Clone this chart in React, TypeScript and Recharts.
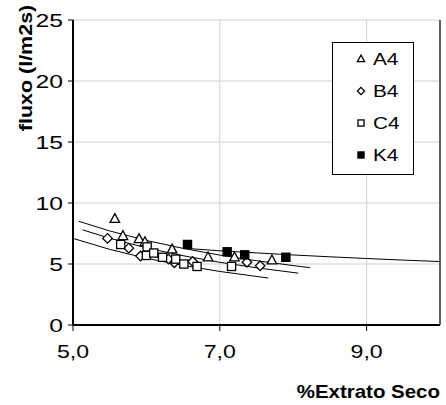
import React from 'react';
import {
  ComposedChart,
  Scatter,
  Line,
  XAxis,
  YAxis,
  CartesianGrid,
  ReferenceLine,
  Legend,
} from 'recharts';

const xTicks = [5, 7, 9];
const yTicks = [0, 5, 10, 15, 20, 25];

const seriesA4 = [
  { x: 5.57, y: 8.7 },
  { x: 5.68, y: 7.3 },
  { x: 5.9, y: 7.05 },
  { x: 5.98, y: 6.8 },
  { x: 6.35, y: 6.2 },
  { x: 6.84, y: 5.55 },
  { x: 7.2, y: 5.55 },
  { x: 7.71, y: 5.3 },
];

const seriesB4 = [
  { x: 5.47, y: 7.1 },
  { x: 5.76, y: 6.3 },
  { x: 5.92, y: 5.65 },
  { x: 6.3, y: 5.4 },
  { x: 6.38, y: 5.1 },
  { x: 6.63, y: 5.2 },
  { x: 7.37, y: 5.15 },
  { x: 7.55, y: 4.85 },
];

const seriesC4 = [
  { x: 5.65, y: 6.6 },
  { x: 6.01, y: 6.4 },
  { x: 6.0, y: 5.7 },
  { x: 6.1, y: 5.9 },
  { x: 6.22, y: 5.55 },
  { x: 6.4, y: 5.4 },
  { x: 6.51, y: 5.0 },
  { x: 6.69, y: 4.8 },
  { x: 7.16, y: 4.8 },
];

const seriesK4 = [
  { x: 6.56, y: 6.6 },
  { x: 7.1, y: 6.0 },
  { x: 7.34, y: 5.75 },
  { x: 7.9, y: 5.55 },
];

// trend lines
const trendA4 = [
  { x: 5.08, y: 8.5 },
  { x: 5.5, y: 7.71 },
  { x: 6.0, y: 6.93 },
  { x: 6.5, y: 6.28 },
  { x: 7.0, y: 5.73 },
  { x: 7.5, y: 5.27 },
  { x: 8.0, y: 4.87 },
  { x: 8.23, y: 4.7 },
];

const trendB4 = [
  { x: 5.13, y: 7.8 },
  { x: 5.5, y: 7.11 },
  { x: 6.0, y: 6.32 },
  { x: 6.5, y: 5.68 },
  { x: 7.0, y: 5.14 },
  { x: 7.5, y: 4.69 },
  { x: 8.07, y: 4.25 },
];

const trendC4 = [
  { x: 5.0, y: 7.1 },
  { x: 5.5, y: 6.2 },
  { x: 6.0, y: 5.47 },
  { x: 6.5, y: 4.88 },
  { x: 7.0, y: 4.39 },
  { x: 7.66, y: 3.85 },
];

const trendK4 = [
  { x: 6.5, y: 6.3 },
  { x: 7.0, y: 6.08 },
  { x: 7.5, y: 5.91 },
  { x: 8.0, y: 5.74 },
  { x: 8.5, y: 5.59 },
  { x: 9.0, y: 5.45 },
  { x: 9.5, y: 5.32 },
  { x: 10.0, y: 5.2 },
];

const legendNames = ['A4', 'B4', 'C4', 'K4'];

const FONT = '"Liberation Sans", Arial, sans-serif';

const marker = (name: string, cx: number, cy: number, r: number) => {
  const sw = 1.3;
  if (name === 'A4') {
    return (
      <polygon
        points={`${cx},${cy - r * 1.1} ${cx + r},${cy + r * 0.75} ${cx - r},${cy + r * 0.75}`}
        fill="#fff"
        stroke="#000"
        strokeWidth={sw}
      />
    );
  }
  if (name === 'B4') {
    return (
      <polygon
        points={`${cx},${cy - r} ${cx + r},${cy} ${cx},${cy + r} ${cx - r},${cy}`}
        fill="#fff"
        stroke="#000"
        strokeWidth={sw}
      />
    );
  }
  if (name === 'C4') {
    return (
      <rect x={cx - r * 0.85} y={cy - r * 0.85} width={r * 1.7} height={r * 1.7} fill="#fff" stroke="#000" strokeWidth={sw} />
    );
  }
  return <rect x={cx - r * 0.85} y={cy - r * 0.85} width={r * 1.7} height={r * 1.7} fill="#000" stroke="#000" strokeWidth={sw} />;
};

const shapeFor = (name: string) => (props: any) => marker(name, props.cx, props.cy, 4.8);

const YTick = ({ x, y, payload }: any) => (
  <g transform={`translate(${x},${y})`}>
    <text transform="scale(1.3,1)" textAnchor="end" dy="0.36em" fontSize={19} fontFamily={FONT} fill="#000">
      {payload.value}
    </text>
  </g>
);

const XTick = ({ x, y, payload }: any) => (
  <g transform={`translate(${x},${y + 25})`}>
    <text transform="scale(1.25,1)" textAnchor="middle" fontSize={18.5} fontFamily={FONT} fill="#000">
      {payload.value.toFixed(1).replace('.', ',')}
    </text>
  </g>
);

const renderLegend = () => (
  <svg width={82} height={133} style={{ display: 'block' }}>
    <rect x={0.5} y={0.5} width={81} height={132} fill="#fff" stroke="#000" strokeWidth={1} />
    {legendNames.map((n, i) => (
      <g key={n}>
        {marker(n, 29, 17 + i * 32, 3.6)}
        <g transform={`translate(41,${17 + i * 32 + 6})`}>
          <text transform="scale(1.3,1)" fontSize={16} fontFamily={FONT} fill="#000">
            {n}
          </text>
        </g>
      </g>
    ))}
  </svg>
);

export default function App() {
  return (
    <div style={{ position: 'absolute', left: 0, top: 0, width: 446, height: 405, background: '#fff' }}>
      <ComposedChart width={446} height={405} margin={{ top: 20, right: 6, left: 0, bottom: 0 }}>
        <CartesianGrid stroke="#cfcfcf" strokeWidth={1} />
        <XAxis
          type="number"
          dataKey="x"
          domain={[5, 10]}
          ticks={xTicks}
          allowDataOverflow
          height={80}
          axisLine={{ stroke: '#000', strokeWidth: 2 }}
          tickLine={{ stroke: '#000' }}
          tickSize={6}
          tick={<XTick />}
          label={{
            content: () => (
              <g transform="translate(440,398)">
                <text transform="scale(1.1,1)" textAnchor="end" fontSize={18.6} fontWeight="bold" fontFamily={FONT} fill="#000">
                  %Extrato Seco
                </text>
              </g>
            ),
          }}
        />
        <YAxis
          type="number"
          dataKey="y"
          domain={[0, 25]}
          ticks={yTicks}
          allowDataOverflow
          width={73}
          axisLine={{ stroke: '#000', strokeWidth: 2 }}
          tickLine={{ stroke: '#000' }}
          tickSize={5}
          tickMargin={5}
          tick={<YTick />}
          label={{
            content: () => (
              <g transform="translate(32,68) rotate(-90)">
                <text transform="scale(1.13,1)" textAnchor="middle" fontSize={19} fontWeight="bold" fontFamily={FONT} fill="#000">
                  fluxo (l/m2s)
                </text>
              </g>
            ),
          }}
        />
        <ReferenceLine x={10} stroke="#333" strokeWidth={1.5} />
        <Line data={trendA4} dataKey="y" type="linear" stroke="#000" strokeWidth={1} dot={false} legendType="none" isAnimationActive={false} />
        <Line data={trendB4} dataKey="y" type="linear" stroke="#000" strokeWidth={1} dot={false} legendType="none" isAnimationActive={false} />
        <Line data={trendC4} dataKey="y" type="linear" stroke="#000" strokeWidth={1} dot={false} legendType="none" isAnimationActive={false} />
        <Line data={trendK4} dataKey="y" type="linear" stroke="#000" strokeWidth={1} dot={false} legendType="none" isAnimationActive={false} />
        <Scatter name="A4" data={seriesA4} dataKey="y" shape={shapeFor('A4')} isAnimationActive={false} />
        <Scatter name="B4" data={seriesB4} dataKey="y" shape={shapeFor('B4')} isAnimationActive={false} />
        <Scatter name="C4" data={seriesC4} dataKey="y" shape={shapeFor('C4')} isAnimationActive={false} />
        <Scatter name="K4" data={seriesK4} dataKey="y" shape={shapeFor('K4')} isAnimationActive={false} />
        <Legend
          layout="vertical"
          align="center"
          verticalAlign="middle"
          content={renderLegend}
          wrapperStyle={{ position: 'absolute', left: 332, top: 42, width: 82, height: 133 }}
        />
      </ComposedChart>
    </div>
  );
}
